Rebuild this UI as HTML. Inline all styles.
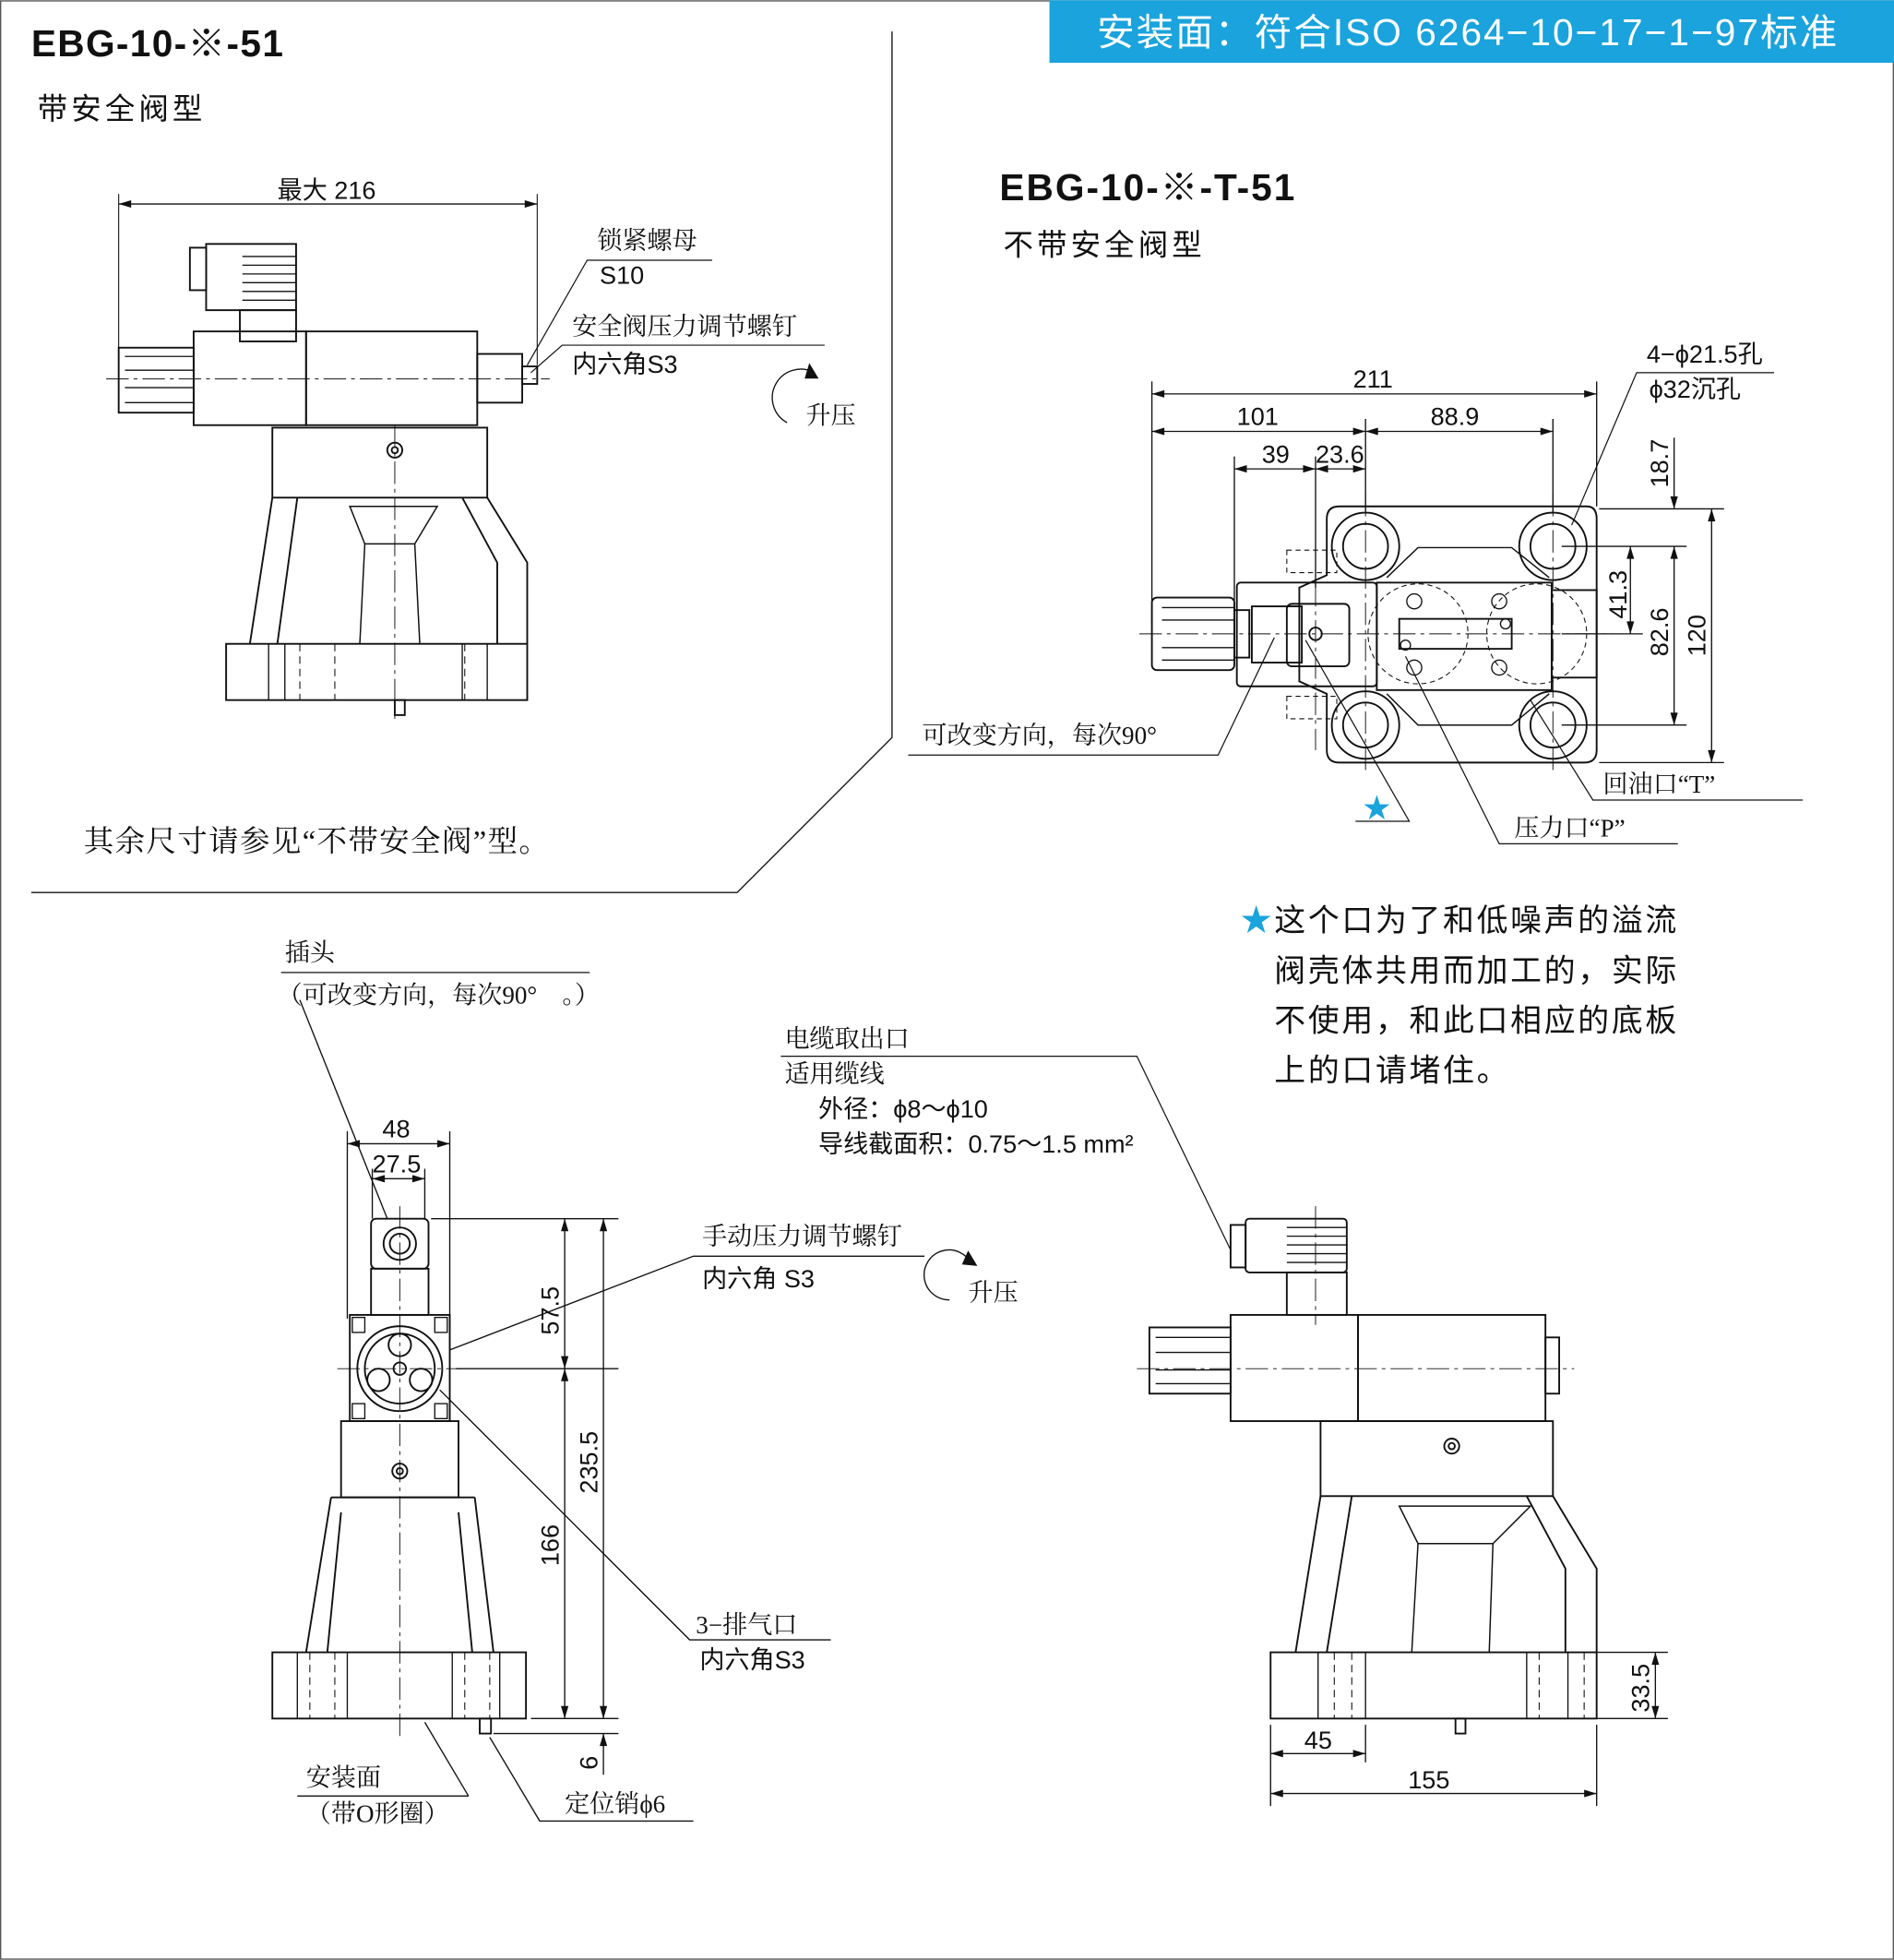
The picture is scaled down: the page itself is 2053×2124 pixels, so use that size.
<!DOCTYPE html>
<html><head><meta charset="utf-8"><style>
html,body{margin:0;padding:0;background:#fff}
svg{display:block}
text{font-family:"Liberation Sans","Noto Sans CJK SC",sans-serif;fill:#111}
.s{font-family:"Liberation Serif","Noto Serif CJK SC",serif}
</style></head><body>
<svg width="2053" height="2124" viewBox="0 0 1516 1568" xmlns="http://www.w3.org/2000/svg">
<defs>
<marker id="a" viewBox="0 0 10 6" refX="10" refY="3" markerWidth="14" markerHeight="6" markerUnits="userSpaceOnUse" orient="auto-start-reverse"><path d="M0,0L10,3L0,6z" fill="#111"/></marker>
</defs>
<rect x="0.5" y="0.5" width="1515" height="1567" fill="#fff" stroke="#555" stroke-width="1"/>
<rect x="840" y="0" width="676" height="50" fill="#1aa3dc"/>
<text x="878" y="36" font-size="30" letter-spacing="1.5" style="fill:#fff">安装面：符合ISO 6264−10−17−1−97标准</text>

<g fill="none" stroke="#111" stroke-width="1.3">
<path d="M714,25 V590 L590,714 H25" stroke-width="1"/>
</g>
<text x="25" y="45" font-size="30" font-weight="bold" letter-spacing="1">EBG-10-※-51</text>
<text x="30" y="95" font-size="24" letter-spacing="3">带安全阀型</text>
<text x="67" y="681" font-size="24" letter-spacing="1" class="s">其余尺寸请参见“不带安全阀”型。</text>

<!-- TOP LEFT DRAWING -->
<g fill="none" stroke="#111" stroke-width="1.4">
<line x1="95" y1="163" x2="430" y2="163" marker-start="url(#a)" marker-end="url(#a)" stroke-width="1"/>
<line x1="95" y1="155" x2="95" y2="280" stroke-width="0.8"/>
<line x1="430" y1="155" x2="430" y2="292" stroke-width="0.8"/>
<rect x="165" y="195" width="72" height="53"/>
<rect x="152" y="198" width="13" height="34"/>
<path d="M194,205H237M194,212H237M194,219H237M194,226H237M194,233H237M194,240H237" stroke-width="1"/>
<rect x="192" y="248" width="45" height="25"/>
<rect x="95" y="278" width="60" height="52"/>
<path d="M100,285H155M100,296H155M100,310H155M100,322H155" stroke-width="1"/>
<rect x="155" y="265" width="90" height="75"/>
<rect x="245" y="265" width="137" height="75"/>
<rect x="382" y="283" width="36" height="39"/>
<rect x="418" y="293" width="12" height="14"/>
<rect x="218" y="342" width="172" height="56"/>
<circle cx="316" cy="360" r="6"/><circle cx="316" cy="360" r="2.5"/>
<path d="M218,398 L200,515 M390,398 L422,450 V515 M238,398 L222,515 M370,398 L398,450 V515"/>
<path d="M280,405 H350 L332,435 H292 Z M292,435 L288,515 M332,435 L336,515" stroke-width="1.1"/>
<rect x="181" y="515" width="241" height="45"/>
<path d="M215,515V560M228,515V560M370,515V560M390,515V560" stroke-width="1"/>
<path d="M240,515V560M268,515V560M372,515V560" stroke-dasharray="6,4" stroke-width="0.8"/>
<rect x="316" y="560" width="8" height="12"/>
<path d="M85,303H440M316,340V575" stroke-dasharray="18,4,3,4" stroke-width="0.7"/>
<path d="M570,208 H470 L422,292" stroke-width="0.9"/>
<path d="M660,276 H450 L425,298" stroke-width="0.9"/>
<path d="M652,298 A20,20 0 1 0 630,338" stroke-width="1"/>
<path d="M648,292 l6,10 l-9,0z" fill="#111"/>
</g>
<text x="478" y="199" font-size="20" class="s">锁紧螺母</text>
<text x="480" y="227" font-size="20">S10</text>
<text x="458" y="268" font-size="20" class="s">安全阀压力调节螺钉</text>
<text x="458" y="298" font-size="20">内六角S3</text>
<text x="645" y="339" font-size="20" class="s">升压</text>
<text x="222" y="159" font-size="20">最大 216</text>

<!-- TOP RIGHT -->
<text x="800" y="160" font-size="30" font-weight="bold" letter-spacing="1.5">EBG-10-※-T-51</text>
<text x="803" y="204" font-size="24" letter-spacing="3">不带安全阀型</text>
<g fill="none" stroke="#111" stroke-width="1.4">
<g stroke-width="1">
<line x1="922" y1="315" x2="1278" y2="315" marker-start="url(#a)" marker-end="url(#a)"/>
<line x1="922" y1="345" x2="1093" y2="345" marker-start="url(#a)" marker-end="url(#a)"/>
<line x1="1093" y1="345" x2="1243" y2="345" marker-start="url(#a)" marker-end="url(#a)"/>
<line x1="988" y1="375" x2="1053" y2="375" marker-start="url(#a)" marker-end="url(#a)"/>
<line x1="1053" y1="375" x2="1093" y2="375" marker-start="url(#a)" marker-end="url(#a)"/>
<path d="M922,305V500M1278,305V405M988,365V480M1053,365V470M1093,335V410M1243,335V410"/>
<line x1="1340" y1="350" x2="1340" y2="407" marker-end="url(#a)"/>
<line x1="1305" y1="437" x2="1305" y2="507" marker-start="url(#a)" marker-end="url(#a)"/>
<line x1="1340" y1="437" x2="1340" y2="580" marker-start="url(#a)" marker-end="url(#a)"/>
<line x1="1370" y1="407" x2="1370" y2="610" marker-start="url(#a)" marker-end="url(#a)"/>
<path d="M1280,407H1380M1250,437H1350M1250,507H1315M1250,580H1350M1280,610H1380"/>
</g>
<path d="M1072,405 H1270 Q1278,405 1278,415 V600 Q1278,610 1268,610 H1072 Q1062,610 1062,600 V555 L1040,545 V470 L1062,460 V415 Q1062,405 1072,405Z"/>
<circle cx="1093" cy="437" r="27"/><circle cx="1093" cy="437" r="18"/>
<circle cx="1243" cy="437" r="27"/><circle cx="1243" cy="437" r="18"/>
<circle cx="1093" cy="580" r="27"/><circle cx="1093" cy="580" r="18"/>
<circle cx="1243" cy="580" r="27"/><circle cx="1243" cy="580" r="18"/>
<path d="M1110,462 L1135,438 H1210 L1240,462 M1110,555 L1135,580 H1210 L1240,555" stroke-width="1.1"/>
<rect x="922" y="478" width="66" height="58" rx="4"/>
<path d="M930,486H988M930,496H988M930,518H988M930,528H988" stroke-width="1"/>
<rect x="988" y="488" width="12" height="38"/>
<rect x="990" y="466" width="112" height="83" rx="3"/>
<rect x="1002" y="485" width="40" height="45"/>
<rect x="1030" y="483" width="50" height="50" rx="4"/>
<circle cx="1053" cy="507" r="5"/>
<rect x="1102" y="466" width="140" height="86"/>
<rect x="1120" y="495" width="90" height="24"/>
<rect x="1242" y="472" width="36" height="70"/>
<g stroke-width="1"><circle cx="1132" cy="481" r="6"/><circle cx="1200" cy="481" r="6"/><circle cx="1132" cy="534" r="6"/><circle cx="1200" cy="534" r="6"/><circle cx="1125" cy="516" r="4"/><circle cx="1205" cy="499" r="4"/></g>
<g stroke-dasharray="4,3" stroke-width="0.8"><circle cx="1135" cy="507" r="40"/><circle cx="1230" cy="507" r="40"/><rect x="1030" y="440" width="40" height="18"/><rect x="1030" y="557" width="40" height="18"/></g>
<path d="M912,507H1290M1093,395V620M1243,395V620M1053,380V600" stroke-dasharray="18,4,3,4" stroke-width="0.7"/>
<g stroke-width="0.9">
<path d="M1420,298 H1310 L1258,420"/>
<path d="M727,604 H975 L1020,510"/>
<path d="M1085,657 H1128 L1045,512"/>
<path d="M1443,640 H1275 L1225,560"/>
<path d="M1343,675 H1200 L1125,525"/>
</g>
</g>
<text x="1083" y="310" font-size="20">211</text>
<text x="990" y="340" font-size="20">101</text>
<text x="1145" y="340" font-size="20">88.9</text>
<text x="1010" y="370" font-size="20">39</text>
<text x="1053" y="370" font-size="20">23.6</text>
<text font-size="20" transform="translate(1335,390) rotate(-90)">18.7</text>
<text font-size="20" transform="translate(1302,495) rotate(-90)">41.3</text>
<text font-size="20" transform="translate(1335,525) rotate(-90)">82.6</text>
<text font-size="20" transform="translate(1365,525) rotate(-90)">120</text>
<text x="1318" y="290" font-size="20">4−ϕ21.5孔</text>
<text x="1320" y="318" font-size="20">ϕ32沉孔</text>
<text x="738" y="595" font-size="20" class="s">可改变方向，每次90°</text>
<text x="1091" y="654" font-size="22" style="fill:#1aa3dc">★</text>
<text x="1283" y="634" font-size="20" class="s">回油口“T”</text>
<text x="1212" y="669" font-size="20" class="s">压力口“P”</text>
<g font-size="25" class="s" letter-spacing="2">
<text x="993" y="745"><tspan style="fill:#1aa3dc">★</tspan>这个口为了和低噪声的溢流</text>
<text x="1020" y="785">阀壳体共用而加工的，实际</text>
<text x="1020" y="825">不使用，和此口相应的底板</text>
<text x="1020" y="865">上的口请堵住。</text>
</g>

<!-- BOTTOM LEFT -->
<g fill="none" stroke="#111" stroke-width="1.4">
<g stroke-width="1">
<line x1="278" y1="915" x2="360" y2="915" marker-start="url(#a)" marker-end="url(#a)"/>
<line x1="298" y1="943" x2="340" y2="943" marker-start="url(#a)" marker-end="url(#a)"/>
<path d="M278,905V1055M360,905V1055M298,935V975M340,935V975"/>
<line x1="452" y1="975" x2="452" y2="1095" marker-start="url(#a)" marker-end="url(#a)"/>
<line x1="483" y1="975" x2="483" y2="1375" marker-start="url(#a)" marker-end="url(#a)"/>
<line x1="452" y1="1095" x2="452" y2="1375" marker-start="url(#a)" marker-end="url(#a)"/>
<line x1="483" y1="1420" x2="483" y2="1387" marker-end="url(#a)"/>
<path d="M345,975H495M365,1095H495M425,1375H495M395,1387H495"/>
<path d="M225,778H472 M240,800 L310,975"/>
<path d="M740,1005 H555 L360,1080"/>
<path d="M665,1312 H552 L352,1112"/>
<path d="M375,1437 H238 M375,1437 L340,1378"/>
<path d="M555,1457 H432 L392,1390"/>
<path d="M778,1012 A20,20 0 1 0 760,1040"/>
</g>
<path d="M775,1002 l6,10 l-10,-1z" fill="#111"/>
<rect x="297" y="975" width="46" height="40" rx="4"/>
<circle cx="320" cy="995" r="13"/><circle cx="320" cy="995" r="8"/>
<rect x="297" y="1015" width="46" height="37"/>
<rect x="280" y="1052" width="80" height="85"/>
<g stroke-width="1"><rect x="282" y="1054" width="10" height="12"/><rect x="348" y="1054" width="10" height="12"/><rect x="282" y="1123" width="10" height="12"/><rect x="348" y="1123" width="10" height="12"/></g>
<circle cx="320" cy="1095" r="34"/><circle cx="320" cy="1095" r="28"/>
<circle cx="320" cy="1076" r="9"/><circle cx="303" cy="1104" r="9"/><circle cx="337" cy="1104" r="9"/><circle cx="320" cy="1095" r="5"/>
<rect x="273" y="1137" width="94" height="61"/>
<circle cx="320" cy="1177" r="6"/><circle cx="320" cy="1177" r="2.5"/>
<path d="M265,1198 H380 M265,1198 L245,1322 M380,1198 L395,1322 M273,1210 L262,1322 M367,1210 L378,1322"/>
<rect x="218" y="1322" width="203" height="53"/>
<path d="M238,1322V1375M278,1322V1375M362,1322V1375M400,1322V1375" stroke-width="1"/>
<path d="M248,1322V1375M268,1322V1375M372,1322V1375M392,1322V1375" stroke-dasharray="6,4" stroke-width="0.8"/>
<rect x="384" y="1375" width="9" height="12"/>
<path d="M320,965V1390M270,1095H370" stroke-dasharray="18,4,3,4" stroke-width="0.7"/>
</g>
<text x="228" y="769" font-size="20" class="s">插头</text>
<text x="222" y="803" font-size="20" class="s">（可改变方向，每次90°　。）</text>
<text x="306" y="910" font-size="20">48</text>
<text x="298" y="938" font-size="20">27.5</text>
<text font-size="20" transform="translate(447,1068) rotate(-90)">57.5</text>
<text font-size="20" transform="translate(478,1195) rotate(-90)">235.5</text>
<text font-size="20" transform="translate(447,1253) rotate(-90)">166</text>
<text font-size="20" transform="translate(478,1416) rotate(-90)">6</text>
<text x="562" y="996" font-size="20" class="s">手动压力调节螺钉</text>
<text x="562" y="1030" font-size="20">内六角 S3</text>
<text x="775" y="1041" font-size="20" class="s">升压</text>
<text x="557" y="1307" font-size="20" class="s">3−排气口</text>
<text x="560" y="1335" font-size="20">内六角S3</text>
<text x="245" y="1429" font-size="20" class="s">安装面</text>
<text x="245" y="1458" font-size="20" class="s">（带O形圈）</text>
<text x="452" y="1450" font-size="20" class="s">定位销ϕ6</text>

<!-- BOTTOM RIGHT -->
<text x="628" y="838" font-size="20" class="s">电缆取出口</text>
<text x="628" y="866" font-size="20" class="s">适用缆线</text>
<text x="655" y="894" font-size="20">外径：ϕ8～ϕ10</text>
<text x="655" y="922" font-size="20">导线截面积：0.75～1.5 mm²</text>
<g fill="none" stroke="#111" stroke-width="1.4">
<path d="M625,845 H910 L985,1000" stroke-width="0.9"/>
<rect x="997" y="975" width="81" height="43" rx="3"/>
<rect x="985" y="980" width="12" height="34"/>
<path d="M1030,982H1078M1030,989H1078M1030,996H1078M1030,1003H1078M1030,1010H1078" stroke-width="1"/>
<rect x="1030" y="1018" width="48" height="34"/>
<rect x="920" y="1062" width="65" height="53"/>
<path d="M925,1070H985M925,1082H985M925,1096H985M925,1107H985" stroke-width="1"/>
<rect x="985" y="1052" width="102" height="85"/>
<rect x="1087" y="1052" width="150" height="85"/>
<rect x="1237" y="1070" width="11" height="45"/>
<rect x="1057" y="1137" width="186" height="60"/>
<circle cx="1162" cy="1157" r="6"/><circle cx="1162" cy="1157" r="2.5"/>
<path d="M1057,1197 L1037,1322 M1243,1197 L1278,1255 V1322 M1082,1197 L1062,1322 M1222,1197 L1253,1255 V1322"/>
<path d="M1120,1205 H1225 L1195,1235 H1135 Z M1135,1235 L1130,1322 M1195,1235 L1192,1322" stroke-width="1.1"/>
<rect x="1017" y="1322" width="261" height="53"/>
<path d="M1055,1322V1375M1093,1322V1375M1222,1322V1375M1255,1322V1375" stroke-width="1"/>
<path d="M1068,1322V1375M1082,1322V1375M1232,1322V1375M1268,1322V1375" stroke-dasharray="6,4" stroke-width="0.8"/>
<rect x="1165" y="1375" width="8" height="12"/>
<path d="M910,1095H1260M1053,965V1060" stroke-dasharray="18,4,3,4" stroke-width="0.7"/>
<g stroke-width="1">
<line x1="1325" y1="1322" x2="1325" y2="1375" marker-start="url(#a)" marker-end="url(#a)"/>
<path d="M1278,1322H1335M1278,1375H1335M1017,1380V1445M1093,1380V1410M1278,1380V1445"/>
<line x1="1017" y1="1403" x2="1093" y2="1403" marker-start="url(#a)" marker-end="url(#a)"/>
<line x1="1017" y1="1435" x2="1278" y2="1435" marker-start="url(#a)" marker-end="url(#a)"/>
</g>
</g>
<text font-size="20" transform="translate(1320,1370) rotate(-90)">33.5</text>
<text x="1044" y="1399" font-size="20">45</text>
<text x="1127" y="1431" font-size="20">155</text>
</svg>
</body></html>
